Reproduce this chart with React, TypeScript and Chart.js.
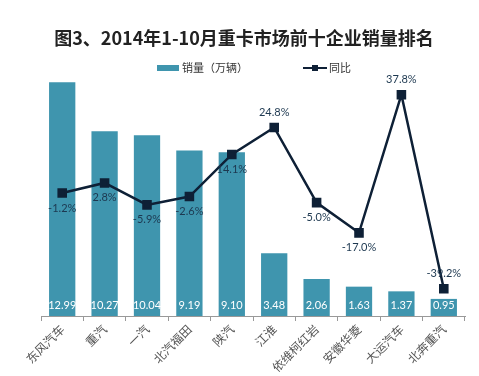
import React, { useEffect, useRef } from "react";
import { Chart, registerables } from "chart.js";

Chart.register(...registerables);

const titleText = "图3、2014年1-10月重卡市场前十企业销量排名";
const categories = ["东风汽车", "重汽", "一汽", "北汽福田", "陕汽", "江淮", "依维柯红岩", "安徽华菱", "大运汽车", "北奔重汽"];
const sales = [12.99, 10.27, 10.04, 9.19, 9.1, 3.48, 2.06, 1.63, 1.37, 0.95];
const yoy = [-1.2, 2.8, -5.9, -2.6, 14.1, 24.8, -5.0, -17.0, 37.8, -39.2];
const salesLabel = "销量（万辆）";
const yoyLabel = "同比";

const BAR = "#3f95ae";
const LINE = "#0e2036";
const LINE_LABEL = "#1d3850";
const LABEL_ABOVE = [5, 8, 9];
const CJK = "'Noto Sans CJK SC', sans-serif";
const NUM = "Lato, 'Noto Sans', sans-serif";

const overlayPlugin = {
  id: "overlay",
  afterDatasetsDraw(chart: any) {
    const ctx = chart.ctx;
    ctx.save();
    ctx.textAlign = "center";
    ctx.textBaseline = "middle";
    ctx.font = `11px ${NUM}`;
    ctx.fillStyle = "#ffffff";
    chart.getDatasetMeta(0).data.forEach((el: any, i: number) => {
      ctx.fillText(sales[i].toFixed(2), el.x, el.base - 11);
    });
    ctx.fillStyle = LINE_LABEL;
    chart.getDatasetMeta(1).data.forEach((el: any, i: number) => {
      const dy = LABEL_ABOVE.includes(i) ? -15 : 15;
      ctx.fillText(yoy[i].toFixed(1) + "%", el.x, el.y + dy);
    });
    ctx.restore();
  },
  afterDraw(chart: any) {
    const ctx = chart.ctx;
    ctx.save();
    // title
    ctx.font = `bold 18px ${CJK}`;
    ctx.fillStyle = "#222222";
    ctx.textAlign = "center";
    ctx.textBaseline = "middle";
    ctx.fillText(titleText, 244, 38);
    // legend
    const ly = 68;
    ctx.fillStyle = BAR;
    ctx.fillRect(157, ly - 3, 22, 6);
    ctx.font = `11px ${CJK}`;
    ctx.fillStyle = "#333333";
    ctx.textAlign = "left";
    ctx.fillText(salesLabel, 182, ly);
    ctx.strokeStyle = LINE;
    ctx.lineWidth = 2;
    ctx.beginPath();
    ctx.moveTo(303, ly);
    ctx.lineTo(327, ly);
    ctx.stroke();
    ctx.fillStyle = LINE;
    ctx.fillRect(312, ly - 3, 6, 6);
    ctx.fillStyle = "#333333";
    ctx.fillText(yoyLabel, 329, ly);
    ctx.restore();
  },
};

export default function App() {
  const ref = useRef<HTMLCanvasElement | null>(null);
  useEffect(() => {
    if (!ref.current) return;
    const chart = new Chart(ref.current, {
      type: "bar",
      data: {
        labels: categories,
        datasets: [
          {
            type: "bar",
            label: salesLabel,
            data: sales,
            backgroundColor: BAR,
            yAxisID: "y",
            order: 1,
            barPercentage: 0.62,
            categoryPercentage: 1,
          },
          {
            type: "line",
            label: yoyLabel,
            data: yoy,
            borderColor: LINE,
            backgroundColor: LINE,
            borderWidth: 2.5,
            pointStyle: "rect",
            pointRadius: 5,
            pointHoverRadius: 5,
            tension: 0,
            yAxisID: "y1",
            order: 0,
          },
        ],
      },
      options: {
        animation: false,
        responsive: true,
        maintainAspectRatio: false,
        layout: { padding: { left: 41, right: 14, top: 64, bottom: 0 } },
        plugins: {
          legend: { display: false },
          title: { display: false },
          tooltip: { enabled: false },
        },
        scales: {
          x: {
            grid: { display: true, drawOnChartArea: false, drawTicks: true, tickLength: 5, color: "#999999", offset: true },
            border: { display: true, color: "#999999" },
            ticks: {
              color: "#555555",
              font: { size: 12, family: CJK },
              minRotation: 45,
              maxRotation: 45,
              padding: 1,
              autoSkip: false,
            },
            afterFit: (s: any) => {
              s.height = 60;
            },
          },
          y: { display: false, min: 0, max: 14 },
          y1: { display: false, min: -50, max: 50, position: "right" },
        },
      },
      plugins: [overlayPlugin],
    });
    return () => chart.destroy();
  }, []);
  return (
    <div style={{ position: "fixed", left: 0, top: 0, width: 479, height: 376, background: "#fff" }}>
      <canvas ref={ref} />
    </div>
  );
}
